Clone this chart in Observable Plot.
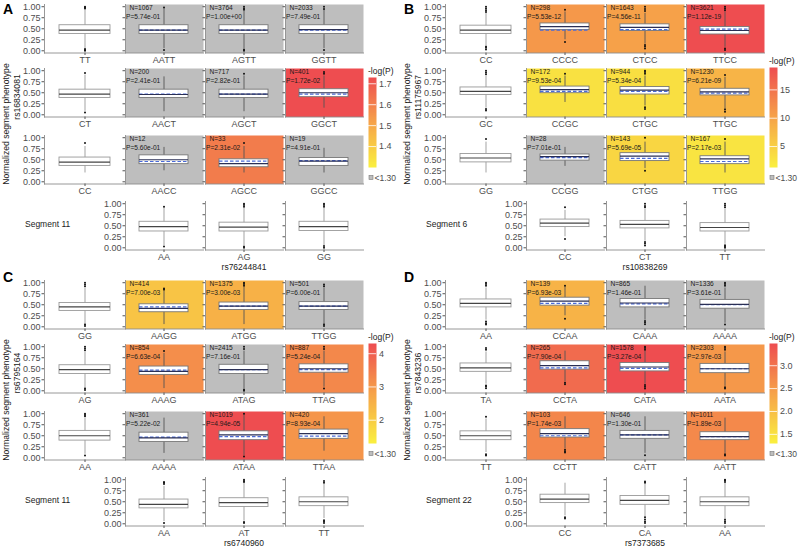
<!DOCTYPE html>
<html><head><meta charset="utf-8">
<script src="https://cdn.jsdelivr.net/npm/d3@7"></script>
<script src="https://cdn.jsdelivr.net/npm/@observablehq/plot@0.6"></script>
<style>
body{margin:0;background:#fff;}
#fig{position:relative;width:800px;height:548px;overflow:hidden;background:#fff;font-family:'Liberation Sans',Arial,sans-serif;}
#fig svg{position:absolute;overflow:visible;max-width:none;}
</style></head><body><div id="fig"></div>
<script>
// ---------------- DATA ----------------
// box stats: [q1, median, q3, whiskerLow, whiskerHigh]
// Panel A
const A_rowSnp = "rs16834081", A_colSnp = "rs76244841", A_segment = "Segment 11";
const A_rowGeno = ["TT", "CT", "CC"];
const A_colGeno = ["AA", "AG", "GG"];
const A_rowBox = [[0.38,0.47,0.58,0.05,0.93],[0.38,0.47,0.57,0.08,0.90],[0.36,0.445,0.55,0.20,0.80]];
const A_rowOut = [[0.96,0.98,1.0,0.0,0.02,0.04],[0.95,0.05],[0.88]];
const A_comboBox = [
  [0.38,0.47,0.58,0.05,0.95],[0.38,0.47,0.58,0.05,0.90],[0.38,0.48,0.58,0.05,0.93],
  [0.38,0.46,0.57,0.07,0.86],[0.38,0.47,0.57,0.07,0.88],[0.40,0.50,0.58,0.15,0.88],
  [0.40,0.50,0.60,0.25,0.78],[0.33,0.41,0.51,0.20,0.80],[0.36,0.47,0.54,0.20,0.76]];
const A_comboOut = [[0.98,0.02],[0.93,0.96,1.0,0.0,0.03],[0.95,1.0,0.02],[],[0.93],[0.93,0.97],[],[0.88],[]];
const A_ref = [0.47,0.47,0.47,0.47,0.47,0.47,0.46,0.47,0.48];
const A_N = [1067,3764,2033,200,717,401,12,33,19];
const A_P = [5.74e-01,1.00e+00,7.49e-01,2.41e-01,2.82e-01,1.72e-02,5.60e-01,2.31e-02,4.91e-01];
const A_colBox = [[0.37,0.48,0.59,0.05,0.90],[0.37,0.47,0.57,0.05,0.90],[0.38,0.48,0.59,0.05,0.90]];
const A_colOut = [[0.93,0.03],[0.93,0.97,1.0,0.0,0.03],[0.93,0.97,1.0,0.0,0.04]];
const A_legendTicks = [1.4,1.5,1.6,1.7];
const A_legendMax = 1.73;

// Panel B
const B_rowSnp = "rs11175967", B_colSnp = "rs10838269", B_segment = "Segment 6";
const B_rowGeno = ["CC", "GC", "GG"];
const B_colGeno = ["CC", "CT", "TT"];
const B_rowBox = [[0.38,0.47,0.57,0.12,0.85],[0.45,0.53,0.62,0.15,0.88],[0.44,0.54,0.63,0.20,0.90]];
const B_rowOut = [[0.88,0.92,0.96,1.0,0.1,0.07,0.03],[0.92,0.96,1.0,0.1,0.13],[0.97]];
const B_comboBox = [
  [0.47,0.55,0.62,0.25,0.88],[0.45,0.53,0.60,0.15,0.85],[0.37,0.46,0.54,0.08,0.88],
  [0.49,0.57,0.64,0.28,0.88],[0.46,0.56,0.63,0.20,0.88],[0.44,0.52,0.59,0.12,0.85],
  [0.48,0.57,0.62,0.35,0.78],[0.47,0.58,0.65,0.30,0.90],[0.40,0.52,0.58,0.20,0.90]];
const B_comboOut = [[0.93,0.2],[0.9,0.95,1.0,0.05,0.1,0.13],[0.92,0.96,1.0,0.02,0.05],[0.93],[0.93,0.97,1.0,0.13,0.17],[0.9,0.07,0.12],[],[1.0,0.25],[0.97]];
const B_ref = [0.47,0.48,0.49,0.53,0.53,0.49,0.55,0.53,0.46];
const B_N = [298,1643,3621,172,944,1230,28,143,167];
const B_P = [5.53e-12,4.56e-11,1.12e-19,9.53e-04,5.34e-04,6.21e-09,7.01e-01,5.69e-05,2.17e-03];
const B_colBox = [[0.47,0.56,0.64,0.25,0.85],[0.44,0.53,0.61,0.15,0.88],[0.37,0.46,0.56,0.08,0.88]];
const B_colOut = [[0.92,0.2],[0.92,0.95,1.0,0.05,0.1,0.13],[0.92,0.96,1.0,0.0,0.03,0.06]];
const B_legendTicks = [5,10,15];
const B_legendMax = null;

// Panel C
const C_rowSnp = "rs6795164", C_colSnp = "rs6740960", C_segment = "Segment 11";
const C_rowGeno = ["GG", "AG", "AA"];
const C_colGeno = ["AA", "AT", "TT"];
const C_rowBox = [[0.36,0.45,0.54,0.05,0.88],[0.38,0.48,0.58,0.05,0.88],[0.39,0.50,0.61,0.08,0.90]];
const C_rowOut = [[0.92,0.96,1.0,0.02,0.05],[0.92,0.96,1.0,0.02,0.05],[0.94,0.97,1.0,0.05]];
const C_comboBox = [
  [0.33,0.42,0.51,0.05,0.80],[0.38,0.47,0.55,0.05,0.90],[0.38,0.47,0.56,0.05,0.88],
  [0.36,0.44,0.55,0.05,0.85],[0.38,0.48,0.59,0.05,0.90],[0.41,0.50,0.60,0.08,0.90],
  [0.36,0.45,0.57,0.10,0.90],[0.40,0.52,0.60,0.05,0.97],[0.43,0.55,0.64,0.15,0.93]];
const C_comboOut = [[0.84,0.87],[0.93,0.97,1.0],[0.92,0.96,0.02,0.05],[0.9],[0.95,1.0,0.0,0.03],[0.95,1.0,0.05],[],[1.0,0.03],[]];
const C_ref = [0.45,0.47,0.47,0.47,0.48,0.48,0.47,0.48,0.49];
const C_N = [414,1375,501,854,2415,887,361,1019,420];
const C_P = [7.00e-03,3.00e-03,6.00e-01,6.63e-04,7.16e-01,5.24e-04,5.22e-02,4.94e-05,8.93e-04];
const C_colBox = [[0.35,0.44,0.55,0.05,0.85],[0.38,0.48,0.58,0.06,0.92],[0.40,0.50,0.60,0.12,0.90]];
const C_colOut = [[0.9,0.93,0.95,0.02],[0.95,0.97,1.0,0.02,0.04],[0.93,0.97,0.02,0.05,0.08]];
const C_legendTicks = [2,3,4];
const C_legendMax = null;

// Panel D
const D_rowSnp = "rs7843236", D_colSnp = "rs7373685", D_segment = "Segment 22";
const D_rowGeno = ["AA", "TA", "TT"];
const D_colGeno = ["CC", "CA", "AA"];
const D_rowBox = [[0.44,0.53,0.62,0.15,0.88],[0.43,0.52,0.62,0.15,0.88],[0.40,0.50,0.60,0.12,0.88]];
const D_rowOut = [[0.93,0.97,1.0,0.05,0.08,0.12],[0.93,0.97,0.06,0.1,0.12],[0.93,0.05,0.08]];
const D_comboBox = [
  [0.48,0.58,0.66,0.25,0.90],[0.44,0.54,0.63,0.15,0.92],[0.41,0.51,0.61,0.08,0.88],
  [0.48,0.57,0.67,0.20,0.90],[0.44,0.54,0.63,0.15,0.90],[0.40,0.50,0.61,0.10,0.88],
  [0.46,0.55,0.65,0.20,0.93],[0.43,0.52,0.61,0.10,0.93],[0.40,0.48,0.58,0.10,0.90]];
const D_comboOut = [[0.93,0.18],[0.06,0.1,0.13],[0.93,0.97,1.0,0.05],[0.15,0.18],[0.93,0.97,1.0,0.05,0.09,0.13],[0.93,0.97,1.0,0.05,0.08],[0.12,0.15,0.18],[0.06],[0.05,0.08]];
const D_ref = [0.53,0.52,0.50,0.52,0.51,0.50,0.50,0.52,0.48];
const D_N = [139,865,1336,265,1578,2303,103,646,1011];
const D_P = [6.93e-03,1.46e-01,3.61e-01,7.90e-04,3.27e-04,2.97e-03,1.74e-03,1.30e-01,1.89e-03];
const D_colBox = [[0.47,0.56,0.66,0.18,0.92],[0.43,0.53,0.63,0.15,0.90],[0.40,0.50,0.60,0.12,0.92]];
const D_colOut = [[0.12,0.15],[0.93,0.96,0.02,0.05,0.1,0.15],[0.95,0.98,1.0,0.02,0.06,0.1]];
const D_legendTicks = [1.5,2.0,2.5,3.0];
const D_legendMax = null;

const Y_TICKS = [0, 0.25, 0.5, 0.75, 1];
const SIG_CUTOFF = 1.30;
const GRADIENT = ["#FAF03F", "#F6A349", "#EE4D50"];

// --------------- LAYOUT ---------------
const FONT = "'Liberation Sans', Arial, sans-serif";
const fig = document.getElementById("fig");
const COL_L = [44, 125, 205, 285], COL_W = [80, 78, 78, 78];
const ROW_T = [4, 68.3, 135, 200.7], ROW_H = 48.5;
const AXIS = "#8c8c8c", TICKC = "#4d4d4d", GRAY = "#BEBEBE";

function place(el, left, top) { el.style.left = left + "px"; el.style.top = top + "px"; fig.appendChild(el); }

function fmtP(p) {
  const [m, e] = p.toExponential(2).split("e");
  const s = e[0] === "-" ? "-" : "+";
  return `${m}e${s}${String(Math.abs(+e)).padStart(2, "0")}`;
}

function boxCell(px, py, w, label, box, outs, opt) {
  const [q1, med, q3, lo, hi] = box;
  const d = {g: label, q1, med, q3, lo, hi, ref: opt.ref};
  const o = outs.map(v => ({g: label, v}));
  const mL = 30, mR = 2, mT = 2, mB = 16;
  const inner = opt.fill != null;
  const marks = [];
  if (inner) marks.push(Plot.frame({fill: opt.fill, stroke: null}));
  marks.push(Plot.frame({anchor: "left", stroke: AXIS, strokeWidth: 0.9}));
  marks.push(Plot.frame({anchor: "bottom", stroke: AXIS, strokeWidth: 0.9}));
  marks.push(Plot.axisY({ticks: Y_TICKS, label: null, tickSize: 2.5, tickPadding: 1.5, fontSize: 9,
    stroke: "#555", fill: TICKC, tickFormat: opt.yLabels ? d3.format(".2f") : () => ""}));
  marks.push(Plot.axisX({label: null, tickSize: 2.5, tickPadding: 1.5, fontSize: 9, stroke: "#555", fill: TICKC}));
  marks.push(Plot.ruleX([d], {x: "g", y1: "lo", y2: "hi", stroke: inner ? "#555" : "#999", strokeWidth: 0.9}));
  marks.push(Plot.barY([d], {x: "g", y1: "q1", y2: "q3", fill: "white", stroke: inner ? "#777" : "#999", strokeWidth: 0.9}));
  if (opt.ref != null) marks.push(Plot.tickY([d], {x: "g", y: "ref", stroke: "#4a6bd8", strokeDasharray: "3.5,2", strokeWidth: 1.2}));
  marks.push(Plot.tickY([d], {x: "g", y: "med", stroke: inner ? "#2a2f55" : "#444", strokeWidth: 1.2}));
  marks.push(Plot.dot(o, {x: "g", y: "v", r: 1, fill: "#111", stroke: null}));
  if (opt.n != null) {
    marks.push(Plot.text([d], {text: () => `N=${opt.n}`, frameAnchor: "top-left", dx: 4, dy: 5.5, lineAnchor: "bottom", textAnchor: "start", fontSize: 6.6, fill: "#1a1a1a"}));
    marks.push(Plot.text([d], {text: () => `P=${fmtP(opt.p)}`, frameAnchor: "top-left", dx: 0.5, dy: 14, lineAnchor: "bottom", textAnchor: "start", fontSize: 6.6, fill: "#1a1a1a"}));
  }
  const p = Plot.plot({
    width: w + mL + mR, height: ROW_H + mT + mB,
    marginLeft: mL, marginRight: mR, marginTop: mT, marginBottom: mB,
    x: {type: "band", domain: [label], padding: 0.22, label: null},
    y: {domain: [-0.05, 1.05], label: null},
    style: {background: "transparent", fontFamily: FONT, overflow: "visible"},
    marks
  });
  place(p, px - mL, py - mT);
}

function legend(px, py, lo, hi, ticks, colorOpts, barTop, barBot) {
  const fmt = ticks.some(t => !Number.isInteger(t)) ? d3.format(".1f") : d3.format("d");
  const p = Plot.plot({
    width: 40, height: barBot - barTop + 2, marginTop: 1, marginBottom: 1, marginLeft: 0, marginRight: 32,
    x: {domain: [0, 1], axis: null},
    y: {domain: [lo, hi], axis: null},
    color: colorOpts,
    style: {background: "transparent", fontFamily: FONT, overflow: "visible"},
    marks: [
      Plot.raster({x1: 0, x2: 1, y1: lo, y2: hi, fill: (x, y) => y, width: 1, height: 100, imageRendering: "auto"}),
      Plot.tickY(ticks, {y: d => d, stroke: "white", strokeWidth: 0.8}),
      Plot.axisY({anchor: "right", label: null, ticks, tickFormat: fmt, tickSize: 0, tickPadding: 2.5, fontSize: 9, fill: TICKC})
    ]
  });
  place(p, px, py + barTop - 1);
}

const PANELS = [
  {letter: "A", ox: 0, oy: 0, rowSnp: A_rowSnp, colSnp: A_colSnp, segment: A_segment, rowGeno: A_rowGeno, colGeno: A_colGeno,
   rowBox: A_rowBox, rowOut: A_rowOut, comboBox: A_comboBox, comboOut: A_comboOut, ref: A_ref, N: A_N, P: A_P, colBox: A_colBox, colOut: A_colOut, ticks: A_legendTicks, legMax: A_legendMax, barTop: 77},
  {letter: "B", ox: 401, oy: 0, rowSnp: B_rowSnp, colSnp: B_colSnp, segment: B_segment, rowGeno: B_rowGeno, colGeno: B_colGeno,
   rowBox: B_rowBox, rowOut: B_rowOut, comboBox: B_comboBox, comboOut: B_comboOut, ref: B_ref, N: B_N, P: B_P, colBox: B_colBox, colOut: B_colOut, ticks: B_legendTicks, legMax: B_legendMax, barTop: 67},
  {letter: "C", ox: 0, oy: 276, rowSnp: C_rowSnp, colSnp: C_colSnp, segment: C_segment, rowGeno: C_rowGeno, colGeno: C_colGeno,
   rowBox: C_rowBox, rowOut: C_rowOut, comboBox: C_comboBox, comboOut: C_comboOut, ref: C_ref, N: C_N, P: C_P, colBox: C_colBox, colOut: C_colOut, ticks: C_legendTicks, legMax: C_legendMax, barTop: 67},
  {letter: "D", ox: 401, oy: 276, rowSnp: D_rowSnp, colSnp: D_colSnp, segment: D_segment, rowGeno: D_rowGeno, colGeno: D_colGeno,
   rowBox: D_rowBox, rowOut: D_rowOut, comboBox: D_comboBox, comboOut: D_comboOut, ref: D_ref, N: D_N, P: D_P, colBox: D_colBox, colOut: D_colOut, ticks: D_legendTicks, legMax: D_legendMax, barTop: 67}
];

// overlay for titles
const overlay = d3.create("svg").attr("width", 800).attr("height", 548)
  .style("left", "0px").style("top", "0px").style("font-family", FONT);

for (const P of PANELS) {
  const logp = P.P.map(p => -Math.log10(p));
  const hi = d3.max(logp);
  const colorOpts = {type: "linear", domain: [SIG_CUTOFF, hi], interpolate: d3.piecewise(d3.interpolateRgb, GRADIENT), clamp: true};
  const scale = Plot.scale({color: colorOpts});
  for (let r = 0; r < 3; r++) {
    const y = P.oy + ROW_T[r];
    boxCell(P.ox + COL_L[0], y, COL_W[0], P.rowGeno[r], P.rowBox[r], P.rowOut[r], {yLabels: true});
    for (let c = 0; c < 3; c++) {
      const i = r * 3 + c;
      const v = logp[i];
      boxCell(P.ox + COL_L[c + 1], y, COL_W[c + 1], P.colGeno[c] + P.rowGeno[r], P.comboBox[i], P.comboOut[i],
        {yLabels: false, fill: v < SIG_CUTOFF ? GRAY : scale.apply(v), ref: P.ref[i], n: P.N[i], p: P.P[i]});
    }
  }
  for (let c = 0; c < 3; c++) {
    boxCell(P.ox + COL_L[c + 1], P.oy + ROW_T[3], COL_W[c + 1], P.colGeno[c], P.colBox[c], P.colOut[c], {yLabels: c === 0});
  }
  const legHi = P.legMax ?? hi;
  const legColor = {...colorOpts, domain: [SIG_CUTOFF, legHi]};
  legend(P.ox + 368, P.oy, SIG_CUTOFF, legHi, P.ticks, legColor, P.barTop, 167);

  const g = overlay.append("g").attr("transform", `translate(${P.ox},${P.oy})`);
  g.append("text").attr("x", 3).attr("y", P.oy ? 5.5 : 13.5).attr("font-size", 14).attr("font-weight", "bold").attr("fill", "#000").text(P.letter);
  g.append("text").attr("transform", "translate(8.5,124) rotate(-90)").attr("text-anchor", "middle").attr("font-size", 8.6).attr("fill", "#222").text("Normalized segment phenotype");
  g.append("text").attr("transform", "translate(20,97) rotate(-90)").attr("text-anchor", "middle").attr("font-size", 8.6).attr("fill", "#222").text(P.rowSnp);
  g.append("text").attr("x", 25).attr("y", 227).attr("font-size", 8.5).attr("fill", "#222").text(P.segment);
  g.append("text").attr("x", 244).attr("y", 269.5).attr("text-anchor", "middle").attr("font-size", 8.5).attr("fill", "#222").text(P.colSnp);
  g.append("text").attr("x", 368).attr("y", P.barTop - 3).attr("font-size", 8.5).attr("fill", "#222").text("-log(P)");
  g.append("rect").attr("x", 369).attr("y", 175.5).attr("width", 4).attr("height", 4).attr("fill", GRAY).attr("stroke", "#777").attr("stroke-width", 0.6);
  g.append("text").attr("x", 374.5).attr("y", 180.5).attr("font-size", 8.5).attr("fill", TICKC).text("<1.30");
}
fig.appendChild(overlay.node());
</script></body></html>
